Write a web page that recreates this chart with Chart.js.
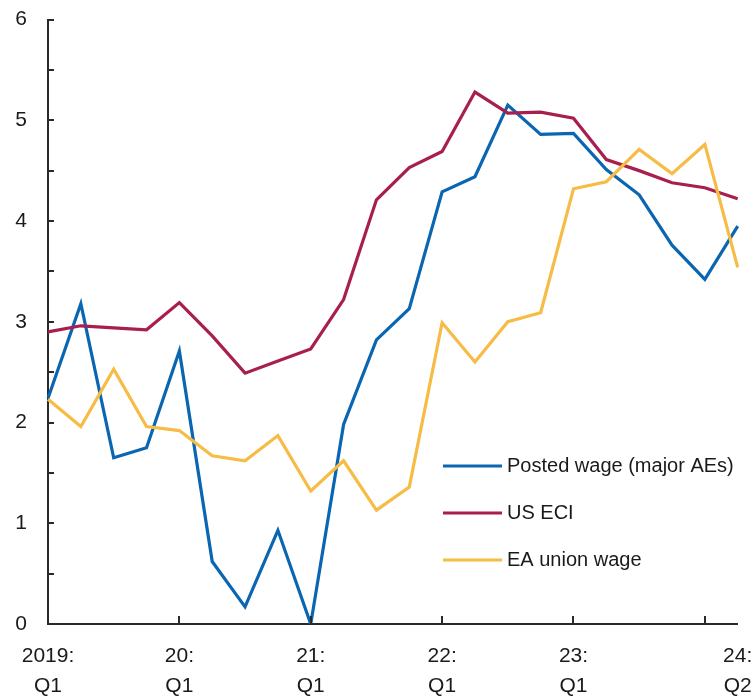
<!DOCTYPE html>
<html lang="en">
<head>
<meta charset="UTF-8">
<title>Wage growth</title>
<script src="https://cdn.jsdelivr.net/npm/chart.js"></script>
<style>
    body {
        margin: 0;
        background: #fff;
    }
    #wrap {
        position: relative;
        width: 753px;
        height: 697px;
    }
</style>
</head>
<body>
<div id="wrap"><canvas id="chart"></canvas></div>
<script>
// Quarters, 2019 Q1 .. 2024 Q2
const quarters = [
    '2019Q1', '2019Q2', '2019Q3', '2019Q4',
    '2020Q1', '2020Q2', '2020Q3', '2020Q4',
    '2021Q1', '2021Q2', '2021Q3', '2021Q4',
    '2022Q1', '2022Q2', '2022Q3', '2022Q4',
    '2023Q1', '2023Q2', '2023Q3', '2023Q4',
    '2024Q1', '2024Q2'
];

// Series (percent)
const postedWage = [2.24, 3.18, 1.65, 1.75, 2.71, 0.62, 0.17, 0.93, 0.0, 1.98, 2.82, 3.13, 4.29, 4.44, 5.15, 4.86, 4.87, 4.51, 4.26, 3.76, 3.42, 3.95];
const usEci = [2.90, 2.96, 2.94, 2.92, 3.19, 2.86, 2.49, 2.61, 2.73, 3.22, 4.21, 4.53, 4.69, 5.28, 5.07, 5.08, 5.02, 4.61, 4.50, 4.38, 4.33, 4.22];
const eaUnionWage = [2.23, 1.96, 2.53, 1.96, 1.92, 1.67, 1.62, 1.87, 1.32, 1.62, 1.13, 1.36, 2.99, 2.60, 3.00, 3.09, 4.32, 4.39, 4.71, 4.47, 4.76, 3.54];

const seriesNames = ['Posted wage (major AEs)', 'US ECI', 'EA union wage'];
const seriesColors = ['#0B66B1', '#A81F4D', '#F6BC45'];
const drawOrder = [2, 1, 0]; // yellow on top

// x-axis labels and tick marks
const labelIndex = [0, 4, 8, 12, 16, 21];
const labelText = [['2019:', 'Q1'], ['20:', 'Q1'], ['21:', 'Q1'], ['22:', 'Q1'], ['23:', 'Q1'], ['24:', 'Q2']];
const tickMarkIndex = [4, 8, 12, 16, 20];

const FONT = "'Liberation Sans', Arial, sans-serif";
const AXIS_COLOR = '#2a2a2a';

// inward tick marks + legend inside the plot
const decorations = {
    id: 'decorations',
    afterDraw(chart) {
        const ctx = chart.ctx;
        const xs = chart.scales.x;
        const ys = chart.scales.y;
        const area = chart.chartArea;

        ctx.save();
        ctx.strokeStyle = AXIS_COLOR;
        ctx.lineWidth = 2;
        ys.ticks.forEach(t => {
            const py = Math.round(ys.getPixelForValue(t.value));
            ctx.beginPath();
            ctx.moveTo(area.left, py);
            ctx.lineTo(area.left + 6, py);
            ctx.stroke();
        });
        tickMarkIndex.forEach(i => {
            const px = Math.round(xs.getPixelForValue(i));
            ctx.beginPath();
            ctx.moveTo(px, area.bottom);
            ctx.lineTo(px, area.bottom - 8);
            ctx.stroke();
        });

        // legend
        ctx.font = '20px ' + FONT;
        ctx.textBaseline = 'middle';
        ctx.fillStyle = '#1a1a1a';
        const rows = [466, 513, 560];
        seriesNames.forEach((name, k) => {
            ctx.strokeStyle = seriesColors[k];
            ctx.lineWidth = 3;
            ctx.beginPath();
            ctx.moveTo(443, rows[k]);
            ctx.lineTo(502, rows[k]);
            ctx.stroke();
            ctx.fillText(name, 507, rows[k]);
        });
        ctx.restore();
    }
};

const seriesData = [postedWage, usEci, eaUnionWage];

new Chart(document.getElementById('chart'), {
    type: 'line',
    data: {
        labels: quarters,
        datasets: seriesData.map((d, k) => ({
            label: seriesNames[k],
            data: d,
            order: drawOrder[k],
            borderColor: seriesColors[k],
            backgroundColor: seriesColors[k],
            borderWidth: 3.2,
            pointRadius: 0,
            tension: 0,
            fill: false
        }))
    },
    options: {
        responsive: true,
        maintainAspectRatio: false,
        devicePixelRatio: 1,
        animation: false,
        layout: {
            padding: { top: 19.5, right: 15.3, left: 0, bottom: 0 }
        },
        plugins: {
            legend: { display: false },
            tooltip: { enabled: false }
        },
        scales: {
            x: {
                type: 'category',
                offset: false,
                grid: { display: false },
                border: { display: true, color: AXIS_COLOR, width: 2 },
                ticks: {
                    autoSkip: false,
                    maxRotation: 0,
                    minRotation: 0,
                    padding: 9,
                    color: '#1a1a1a',
                    font: { family: FONT, size: 21, lineHeight: 1.45 },
                    callback: (value, index) => {
                        const k = labelIndex.indexOf(index);
                        return k >= 0 ? labelText[k] : '';
                    }
                },
                afterFit: scale => {
                    scale.height = 73;
                    scale.paddingLeft = 0;
                    scale.paddingRight = 0;
                }
            },
            y: {
                min: 0,
                max: 6,
                grid: { display: false },
                border: { display: true, color: AXIS_COLOR, width: 2 },
                ticks: {
                    stepSize: 0.5,
                    padding: 13,
                    color: '#1a1a1a',
                    font: { family: FONT, size: 21 },
                    callback: v => Number.isInteger(v) ? v : ''
                },
                afterFit: scale => {
                    scale.width = 48;
                    scale.paddingTop = 0;
                    scale.paddingBottom = 0;
                }
            }
        }
    },
    plugins: [decorations]
});
</script>
</body>
</html>
